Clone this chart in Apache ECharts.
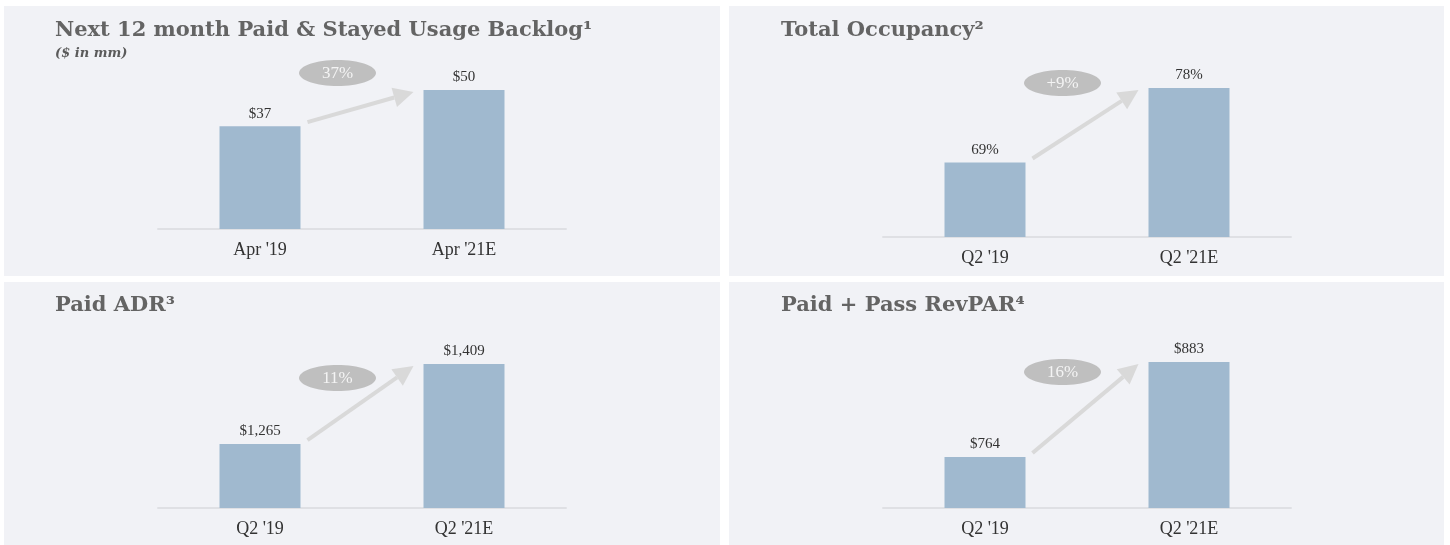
<!DOCTYPE html>
<html lang="en">
<head>
    <meta charset="UTF-8">
    <title>Usage Backlog, Occupancy, ADR and RevPAR</title>
    <style>
        html, body { margin: 0; padding: 0; background: #ffffff; }
        #container { width: 1450px; height: 545px; }
    </style>
</head>
<body>
<div id="container"></div>
</body>
<script type="text/javascript" src="https://cdn.jsdelivr.net/npm/echarts@6/dist/echarts.min.js"></script>
<script type="text/javascript">
    // Data
    var titles = ['Next 12 month Paid & Stayed Usage Backlog\u00b9', 'Total Occupancy\u00b2', 'Paid ADR\u00b3', 'Paid + Pass RevPAR\u2074'];
    var backlogCategories = ["Apr '19", "Apr '21E"];
    var quarterCategories = ["Q2 '19", "Q2 '21E"];
    var backlogValues = [37, 50];
    var occupancyValues = [69, 78];
    var adrValues = [1265, 1409];
    var revparValues = [764, 883];
    var growthLabels = ['37%', '+9%', '11%', '16%'];
    var valuePrefix = ['$', '', '$', '$'];
    var valueSuffix = ['', '%', '', ''];
    // value axis ranges (the right-hand charts do not start at zero)
    var axisMin = [0, 60, 1150, 700];
    var axisMax = [50, 78, 1409, 883];

    var categories = [backlogCategories, quarterCategories, quarterCategories, quarterCategories];
    var values = [backlogValues, occupancyValues, adrValues, revparValues];

    var barColor = '#a0b9cf';
    var panelColor = '#f1f2f6';
    var barWidth = 81;
    var serif = 'Liberation Serif';

    // panel boxes and plot areas
    var panels = [[4, 6, 716, 270], [729, 6, 715, 270], [4, 282, 716, 263], [729, 282, 715, 263]];
    var grids = [
        {left: 158, top: 90, width: 408, height: 139},
        {left: 883, top: 88, width: 408, height: 149},
        {left: 158, top: 364, width: 408, height: 144},
        {left: 883, top: 362, width: 408, height: 146}
    ];
    var titlePos = [[55, 20], [781, 20], [55, 295], [781, 295]];
    var pillDy = [-17, -5, 14, 10];

    var dom = document.getElementById('container');
    var myChart = echarts.init(dom);

    var fmt = function (v) {
        return v.toLocaleString('en-US');
    };

    var option = {
        backgroundColor: '#ffffff',
        animation: false,
        title: titles.map(function (t, i) {
            return {
                text: t,
                subtext: i === 0 ? '($ in mm)' : '',
                left: titlePos[i][0],
                top: titlePos[i][1],
                itemGap: 6,
                padding: 0,
                textStyle: {
                    fontFamily: 'DejaVu Serif',
                    fontWeight: 'bold',
                    fontSize: 21,
                    color: '#646464'
                },
                subtextStyle: {
                    fontFamily: 'DejaVu Serif',
                    fontStyle: 'italic',
                    fontWeight: 'bold',
                    fontSize: 13,
                    color: '#5b5b5b'
                }
            };
        }),
        grid: grids,
        xAxis: grids.map(function (g, i) {
            return {
                type: 'category',
                gridIndex: i,
                data: categories[i],
                axisTick: {show: false},
                axisLine: {lineStyle: {color: '#dfe0e4', width: 2}},
                axisLabel: {
                    margin: 12,
                    fontFamily: serif,
                    fontSize: 18,
                    color: '#333333'
                }
            };
        }),
        yAxis: grids.map(function (g, i) {
            return {
                type: 'value',
                gridIndex: i,
                min: axisMin[i],
                max: axisMax[i],
                show: false,
                splitLine: {show: false}
            };
        }),
        series: values.map(function (v, i) {
            return {
                type: 'bar',
                xAxisIndex: i,
                yAxisIndex: i,
                data: v,
                barWidth: barWidth,
                itemStyle: {color: barColor},
                label: {
                    show: true,
                    position: 'top',
                    distance: 5,
                    fontFamily: serif,
                    fontSize: 15,
                    color: '#333333',
                    formatter: function (p) {
                        return valuePrefix[i] + fmt(p.value) + valueSuffix[i];
                    }
                }
            };
        })
    };

    myChart.setOption(option, true);

    // Panel backgrounds, growth arrows and pills
    var elements = panels.map(function (p) {
        return {
            type: 'rect',
            z: -10,
            shape: {x: p[0], y: p[1], width: p[2], height: p[3]},
            style: {fill: panelColor},
            silent: true
        };
    });

    values.forEach(function (v, i) {
        var p1 = myChart.convertToPixel({gridIndex: i}, [0, v[0]]);
        var p2 = myChart.convertToPixel({gridIndex: i}, [1, v[1]]);
        var x1 = p1[0] + barWidth / 2 + 7, y1 = p1[1] - 4;
        var x2 = p2[0] - barWidth / 2 - 10, y2 = p2[1] + 2;
        var dx = x2 - x1, dy = y2 - y1;
        var len = Math.sqrt(dx * dx + dy * dy);
        dx /= len; dy /= len;
        var headLen = 20, headHalf = 10;
        var bx = x2 - dx * headLen, by = y2 - dy * headLen;
        var cx = p1[0] + barWidth / 2 + 37, cy = p2[1] + pillDy[i];

        elements.push({
            type: 'line',
            z: 10,
            shape: {x1: x1, y1: y1, x2: bx, y2: by},
            style: {stroke: '#d9d9d9', lineWidth: 4}
        });
        elements.push({
            type: 'polygon',
            z: 10,
            shape: {points: [[x2, y2], [bx - dy * headHalf, by + dx * headHalf], [bx + dy * headHalf, by - dx * headHalf]]},
            style: {fill: '#d9d9d9'}
        });
        elements.push({
            type: 'ellipse',
            z: 11,
            shape: {cx: cx, cy: cy, rx: 38.5, ry: 13},
            style: {fill: '#bfbfbf'}
        });
        elements.push({
            type: 'text',
            z: 12,
            x: cx,
            y: cy + 1,
            style: {
                text: growthLabels[i],
                fill: '#f4f4f4',
                font: '17px "Liberation Serif"',
                align: 'center',
                verticalAlign: 'middle',
                textAlign: 'center',
                textVerticalAlign: 'middle'
            }
        });
    });

    myChart.setOption({graphic: {elements: elements}});
</script>
</html>
